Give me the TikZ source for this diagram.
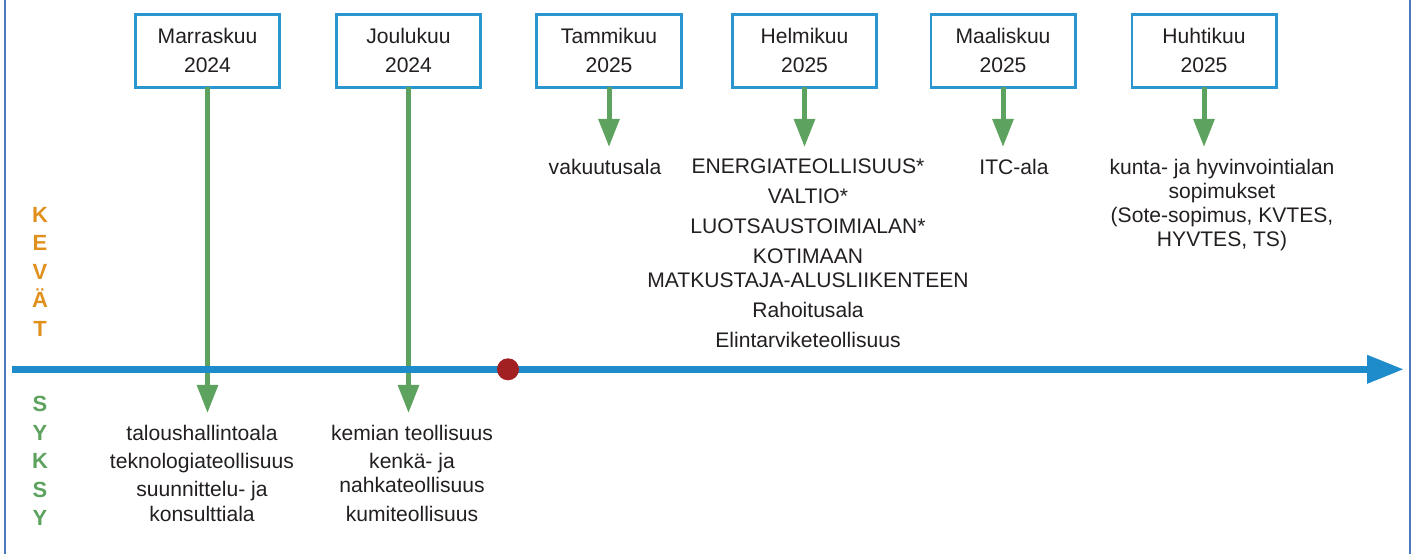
\documentclass[tikz,border=0pt]{standalone}
\usepackage{fontspec}
\setmainfont{Liberation Sans}
\usetikzlibrary{arrows.meta}
\definecolor{axisblue}{RGB}{30,139,203}
\definecolor{boxblue}{RGB}{42,150,208}
\definecolor{framecol}{RGB}{74,122,184}
\definecolor{arrowgreen}{RGB}{93,162,94}
\definecolor{dotred}{RGB}{162,32,34}
\definecolor{springorange}{RGB}{224,144,28}
\definecolor{txt}{RGB}{35,31,32}

\begin{document}
\begin{tikzpicture}[x=0.02cm,y=-0.02cm,
	font=\fontsize{12}{13.8}\selectfont,text=txt,
	month/.style={draw=boxblue,line width=1.45pt,fill=white,minimum width=2.89cm,minimum height=1.46cm,align=center,inner sep=0pt,outer sep=0pt},
	branch/.style={arrowgreen,line width=2.85pt,-{Triangle[width=11.6pt,length=16pt]}},
	sector/.style={align=center,anchor=north,inner xsep=0pt,inner ysep=6.8pt,outer sep=0pt},
	season/.style={align=center,anchor=north,inner sep=0pt,font=\fontsize{12.5}{16.2}\selectfont\bfseries}]
	\useasboundingbox (0,0) rectangle (1416,554);
	
	%frame
	\draw[framecol,line width=1pt] (5,0)--(5,554);
	\draw[framecol,line width=1pt] (1410,0)--(1410,554);
	
	%months
	\node[month] (nov) at (207.5,50.8) {Marraskuu\\[2.7pt]2024};
	\node[month] (dec) at (408.5,50.8) {Joulukuu\\[2.7pt]2024};
	\node[month] (jan) at (609,50.8) {Tammikuu\\[2.7pt]2025};
	\node[month] (feb) at (804.5,50.8) {Helmikuu\\[2.7pt]2025};
	\node[month] (mar) at (1003,50.8) {Maaliskuu\\[2.7pt]2025};
	\node[month] (apr) at (1204,50.8) {Huhtikuu\\[2.7pt]2025};
	
	%sectors, spring
	\node[sector] (insur) at (605,147) {vakuutusala};
	\node[sector] (energy) at (808,147) {ENERGIATEOLLISUUS*\\[3.2pt]VALTIO*\\[3.2pt]LUOTSAUSTOIMIALAN*\\[3.2pt]KOTIMAAN\\MATKUSTAJA-ALUSLIIKENTEEN\\[3.2pt]Rahoitusala\\[3.2pt]Elintarviketeollisuus};
	\node[sector] (itc) at (1014,147) {ITC-ala};
	\node[sector] (munic) at (1222,147) {kunta- ja hyvinvointialan\\sopimukset\\(Sote-sopimus, KVTES,\\HYVTES, TS)};
	
	%sectors, autumn
	\node[sector] (finance) at (202,413) {taloushallintoala\\[2.3pt]teknologiateollisuus\\[2.3pt]suunnittelu- ja\\konsulttiala};
	\node[sector] (chem) at (412,413) {kemian teollisuus\\[2.3pt]kenkä- ja\\nahkateollisuus\\[2.3pt]kumiteollisuus};
	
	%arrows
	\draw[branch] (nov.south)--(nov.south |- finance.north);
	\draw[branch] (dec.south)--(dec.south |- chem.north);
	\draw[branch] (jan.south)--(jan.south |- insur.north);
	\draw[branch] (feb.south)--(feb.south |- energy.north);
	\draw[branch] (mar.south)--(mar.south |- itc.north);
	\draw[branch] (apr.south)--(apr.south |- munic.north);
	
	%time axis
	\coordinate (tstart) at (12,369.3);
	\coordinate (tend) at (1404,369.3);
	\draw[axisblue,line width=4.2pt,-{Triangle[width=15.2pt,length=21pt]}] (tstart)--(tend);
	\node[circle,fill=dotred,minimum size=0.44cm,inner sep=0pt] (now) at (508,369.3) {};
	
	%seasons
	\node[season,text=springorange] (spring) at (40,207) {K\\E\\V\\Ä\\T};
	\node[season,text=arrowgreen] (autumn) at (40,396) {S\\Y\\K\\S\\Y};
\end{tikzpicture}
\end{document}
